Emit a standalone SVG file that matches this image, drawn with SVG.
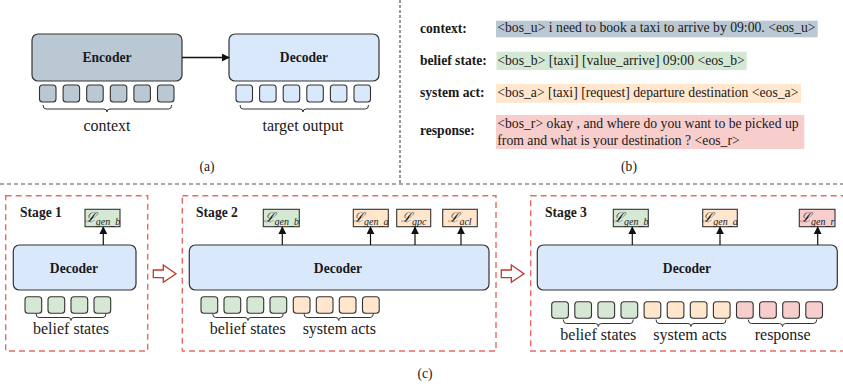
<svg xmlns="http://www.w3.org/2000/svg" width="843" height="386" viewBox="0 0 843 386">
  <defs>
    <marker id="arr" viewBox="0 0 10 10" refX="9" refY="5" markerWidth="8" markerHeight="8" markerUnits="userSpaceOnUse" orient="auto">
      <path d="M0,0 L10,5 L0,10 z" fill="#111"/>
    </marker>
    <marker id="arrUp" viewBox="0 0 10 10" refX="9" refY="5" markerWidth="8" markerHeight="8" markerUnits="userSpaceOnUse" orient="auto">
      <path d="M0,0 L10,5 L0,10 z" fill="#111"/>
    </marker>
  </defs>
  <style>
    text { font-family: "Liberation Serif", "Times New Roman", serif; fill: #1a1a1a; }
    .b { font-weight: bold; font-size: 13.6px; }
    .lbl { font-size: 16px; text-anchor: middle; }
    .cap { font-size: 13.6px; text-anchor: middle; }
    .seq { font-size: 13.7px; }
    .tok { stroke: #333; stroke-width: 1.1; }
    .enc { fill: #bac8d3; }
    .dec { fill: #dae8fc; }
    .g { fill: #d5e8d4; }
    .o { fill: #ffe6cc; }
    .r { fill: #f8cecc; }
    .block { stroke: #333; stroke-width: 1.2; }
    .brace { fill: none; stroke: #333; stroke-width: 1; }
    .stage { fill: none; stroke: #ea6b66; stroke-width: 1.4; stroke-dasharray: 6 4; }
    .sep { fill: none; stroke: #555; stroke-width: 1.2; stroke-dasharray: 4 3; }
    .loss { stroke: #333; stroke-width: 1.1; }
    .up { stroke: #111; stroke-width: 1.2; fill: none; }
    .L { font-family: "DejaVu Serif", serif; font-style: italic; font-size: 13.5px; }
    .sub { font-family: "Liberation Serif", serif; font-style: italic; font-size: 10px; }
    .hollow { fill: #fff; stroke: #c0392b; stroke-width: 1.3; }
  </style>

  <!-- panel separators -->
  <g id="separators">
    <line class="sep" x1="400" y1="0" x2="400" y2="184" style="stroke-dasharray:3 2"/>
    <line class="sep" x1="0" y1="184" x2="843" y2="184"/>
  </g>

  <!-- (a) encoder-decoder -->
  <g id="encoder">
    <rect class="block enc" x="32" y="34" width="150" height="47" rx="6"/>
    <text class="b" x="107" y="62" text-anchor="middle">Encoder</text>
    <rect class="tok enc" x="39.5" y="85" width="16.5" height="17" rx="3"/>
    <rect class="tok enc" x="63.1" y="85" width="16.5" height="17" rx="3"/>
    <rect class="tok enc" x="86.7" y="85" width="16.5" height="17" rx="3"/>
    <rect class="tok enc" x="110.3" y="85" width="16.5" height="17" rx="3"/>
    <rect class="tok enc" x="133.9" y="85" width="16.5" height="17" rx="3"/>
    <rect class="tok enc" x="157.5" y="85" width="16.5" height="17" rx="3"/>
    <path class="brace" d="M43,105 Q43,109 46,109 L104,109 Q107,109 107,112 Q107,109 110,109 L168.7,109 Q171.7,109 171.7,105"/>
    <text class="lbl" x="107" y="131">context</text>
  </g>
  <g id="decoder-a">
    <rect class="block dec" x="229" y="34" width="150" height="47" rx="6"/>
    <text class="b" x="304" y="62" text-anchor="middle">Decoder</text>
    <rect class="tok dec" x="236" y="85" width="16.5" height="17" rx="3"/>
    <rect class="tok dec" x="259.6" y="85" width="16.5" height="17" rx="3"/>
    <rect class="tok dec" x="283.2" y="85" width="16.5" height="17" rx="3"/>
    <rect class="tok dec" x="306.8" y="85" width="16.5" height="17" rx="3"/>
    <rect class="tok dec" x="330.4" y="85" width="16.5" height="17" rx="3"/>
    <rect class="tok dec" x="354" y="85" width="16.5" height="17" rx="3"/>
    <path class="brace" d="M240,105 Q240,109 243,109 L300,109 Q303,109 303,112 Q303,109 306,109 L365.5,109 Q368.5,109 368.5,105"/>
    <text class="lbl" x="303" y="131">target output</text>
  </g>
  <g id="connectors-a">
    <line x1="182" y1="57.5" x2="229" y2="57.5" stroke="#111" stroke-width="1.3" marker-end="url(#arr)"/>
  </g>
  <text class="cap" x="207" y="171">(a)</text>

  <!-- (b) example sequences -->
  <g id="example">
    <rect x="496" y="20.7" width="321.7" height="16.6" fill="#bac8d3"/>
    <rect x="496.5" y="51.7" width="250.2" height="18.3" fill="#d5e8d4"/>
    <rect x="496" y="84" width="305" height="18.7" fill="#ffe6cc"/>
    <rect x="496" y="115" width="308.3" height="34" fill="#f8cecc"/>
    <text class="b" x="420" y="32.5">context:</text>
    <text class="b" x="420" y="65">belief state:</text>
    <text class="b" x="420" y="97">system act:</text>
    <text class="b" x="420" y="135">response:</text>
    <text class="seq" x="497.3" y="32.3">&lt;bos_u&gt; i need to book a taxi to arrive by 09:00. &lt;eos_u&gt;</text>
    <text class="seq" x="497.3" y="65">&lt;bos_b&gt; [taxi] [value_arrive] 09:00 &lt;eos_b&gt;</text>
    <text class="seq" x="497.3" y="96.7">&lt;bos_a&gt; [taxi] [request] departure destination &lt;eos_a&gt;</text>
    <text class="seq" x="497.3" y="128.3">&lt;bos_r&gt; okay , and where do you want to be picked up</text>
    <text class="seq" x="497.3" y="145">from and what is your destination ? &lt;eos_r&gt;</text>
  </g>
  <text class="cap" x="629" y="171">(b)</text>

  <!-- (c) stage 1 -->
  <g id="stage1">
    <rect class="stage" x="5.7" y="195.7" width="142" height="155.3"/>
    <text class="b" x="20" y="217.3">Stage 1</text>
    <rect class="block dec" x="13.3" y="245" width="122.7" height="45" rx="6"/>
    <text class="b" x="74" y="272.5" text-anchor="middle">Decoder</text>
    <rect class="loss g" x="85" y="209.3" width="35" height="17.4"/>
    <text x="102.5" y="222" text-anchor="middle"><tspan class="L">ℒ</tspan><tspan class="sub" dy="2.5">gen_b</tspan></text>
    <rect class="tok g" x="25" y="296.7" width="16.7" height="16.6" rx="3"/>
    <rect class="tok g" x="48" y="296.7" width="16.7" height="16.6" rx="3"/>
    <rect class="tok g" x="71" y="296.7" width="16.7" height="16.6" rx="3"/>
    <rect class="tok g" x="94" y="296.7" width="16.7" height="16.6" rx="3"/>
    <path class="brace" d="M36,313.5 Q36,317.5 39,317.5 L68,317.5 Q71,317.5 71,320.5 Q71,317.5 74,317.5 L103,317.5 Q106,317.5 106,313.5"/>
    <text class="lbl" x="71" y="334">belief states</text>
  </g>

  <!-- (c) stage 2 -->
  <g id="stage2">
    <rect class="stage" x="182.3" y="195.7" width="313.7" height="155.3"/>
    <text class="b" x="196" y="217.3">Stage 2</text>
    <rect class="block dec" x="189.3" y="245" width="299.7" height="45" rx="6"/>
    <text class="b" x="338" y="272.5" text-anchor="middle">Decoder</text>
    <rect class="loss g" x="263.3" y="209.3" width="36" height="17.4"/>
    <text x="281.3" y="222" text-anchor="middle"><tspan class="L">ℒ</tspan><tspan class="sub" dy="2.5">gen_b</tspan></text>
    <rect class="loss o" x="353.3" y="209.3" width="35" height="17.4"/>
    <text x="370.8" y="222" text-anchor="middle"><tspan class="L">ℒ</tspan><tspan class="sub" dy="2.5">gen_a</tspan></text>
    <rect class="loss o" x="396.7" y="209.3" width="34" height="17.4"/>
    <text x="413.7" y="222" text-anchor="middle"><tspan class="L">ℒ</tspan><tspan class="sub" dy="2.5">gpc</tspan></text>
    <rect class="loss o" x="442.7" y="209.3" width="34.6" height="17.4"/>
    <text x="460" y="222" text-anchor="middle"><tspan class="L">ℒ</tspan><tspan class="sub" dy="2.5">acl</tspan></text>
    <rect class="tok g" x="201" y="296.7" width="16.7" height="16.6" rx="3"/>
    <rect class="tok g" x="224" y="296.7" width="16.7" height="16.6" rx="3"/>
    <rect class="tok g" x="247" y="296.7" width="16.7" height="16.6" rx="3"/>
    <rect class="tok g" x="270" y="296.7" width="16.7" height="16.6" rx="3"/>
    <rect class="tok o" x="293.3" y="296.7" width="16.7" height="16.6" rx="3"/>
    <rect class="tok o" x="316.3" y="296.7" width="16.7" height="16.6" rx="3"/>
    <rect class="tok o" x="339.3" y="296.7" width="16.7" height="16.6" rx="3"/>
    <rect class="tok o" x="362.5" y="296.7" width="16.7" height="16.6" rx="3"/>
    <path class="brace" d="M212.7,313.5 Q212.7,317.5 215.7,317.5 L245,317.5 Q248,317.5 248,320.5 Q248,317.5 251,317.5 L280.3,317.5 Q283.3,317.5 283.3,313.5"/>
    <path class="brace" d="M304,313.5 Q304,317.5 307,317.5 L335.7,317.5 Q338.7,317.5 338.7,320.5 Q338.7,317.5 341.7,317.5 L370.3,317.5 Q373.3,317.5 373.3,313.5"/>
    <text class="lbl" x="247.7" y="334">belief states</text>
    <text class="lbl" x="339.3" y="334">system acts</text>
  </g>

  <!-- (c) stage 3 -->
  <g id="stage3">
    <rect class="stage" x="530.7" y="195.7" width="320" height="155.3"/>
    <text class="b" x="545" y="217.3">Stage 3</text>
    <rect class="block dec" x="537.3" y="245" width="300" height="45" rx="6"/>
    <text class="b" x="687" y="272.5" text-anchor="middle">Decoder</text>
    <rect class="loss g" x="613.3" y="209.3" width="35" height="17.4"/>
    <text x="630.8" y="222" text-anchor="middle"><tspan class="L">ℒ</tspan><tspan class="sub" dy="2.5">gen_b</tspan></text>
    <rect class="loss o" x="702.7" y="209.3" width="34.6" height="17.4"/>
    <text x="720" y="222" text-anchor="middle"><tspan class="L">ℒ</tspan><tspan class="sub" dy="2.5">gen_a</tspan></text>
    <rect class="loss r" x="799.3" y="209.3" width="35.7" height="17.4"/>
    <text x="817.2" y="222" text-anchor="middle"><tspan class="L">ℒ</tspan><tspan class="sub" dy="2.5">gen_r</tspan></text>
    <rect class="tok g" x="551.7" y="301.7" width="16.7" height="16.6" rx="3"/>
    <rect class="tok g" x="574.8" y="301.7" width="16.7" height="16.6" rx="3"/>
    <rect class="tok g" x="597.9" y="301.7" width="16.7" height="16.6" rx="3"/>
    <rect class="tok g" x="621" y="301.7" width="16.7" height="16.6" rx="3"/>
    <rect class="tok o" x="644.1" y="301.7" width="16.7" height="16.6" rx="3"/>
    <rect class="tok o" x="667.2" y="301.7" width="16.7" height="16.6" rx="3"/>
    <rect class="tok o" x="690.3" y="301.7" width="16.7" height="16.6" rx="3"/>
    <rect class="tok o" x="713.4" y="301.7" width="16.7" height="16.6" rx="3"/>
    <rect class="tok r" x="736.5" y="301.7" width="16.7" height="16.6" rx="3"/>
    <rect class="tok r" x="759.6" y="301.7" width="16.7" height="16.6" rx="3"/>
    <rect class="tok r" x="782.7" y="301.7" width="16.7" height="16.6" rx="3"/>
    <rect class="tok r" x="805.8" y="301.7" width="16.7" height="16.6" rx="3"/>
    <path class="brace" d="M563.3,319.5 Q563.3,323.5 566.3,323.5 L595.3,323.5 Q598.3,323.5 598.3,326.5 Q598.3,323.5 601.3,323.5 L630.3,323.5 Q633.3,323.5 633.3,319.5"/>
    <path class="brace" d="M656,319.5 Q656,323.5 659,323.5 L688,323.5 Q691,323.5 691,326.5 Q691,323.5 694,323.5 L723,323.5 Q726,323.5 726,319.5"/>
    <path class="brace" d="M748.3,319.5 Q748.3,323.5 751.3,323.5 L779.5,323.5 Q782.5,323.5 782.5,326.5 Q782.5,323.5 785.5,323.5 L813.7,323.5 Q816.7,323.5 816.7,319.5"/>
    <text class="lbl" x="598.3" y="340">belief states</text>
    <text class="lbl" x="690" y="340">system acts</text>
    <text class="lbl" x="782.7" y="340">response</text>
  </g>

  <!-- decoder outputs to losses, and stage transitions -->
  <g id="connectors">
    <line class="up" x1="103.3" y1="245" x2="103.3" y2="227" marker-end="url(#arrUp)"/>
    <line class="up" x1="282.3" y1="245" x2="282.3" y2="227" marker-end="url(#arrUp)"/>
    <line class="up" x1="370.5" y1="245" x2="370.5" y2="227" marker-end="url(#arrUp)"/>
    <line class="up" x1="415" y1="245" x2="415" y2="227" marker-end="url(#arrUp)"/>
    <line class="up" x1="461" y1="245" x2="461" y2="227" marker-end="url(#arrUp)"/>
    <line class="up" x1="632.3" y1="245" x2="632.3" y2="227" marker-end="url(#arrUp)"/>
    <line class="up" x1="720" y1="245" x2="720" y2="227" marker-end="url(#arrUp)"/>
    <line class="up" x1="817.7" y1="245" x2="817.7" y2="227" marker-end="url(#arrUp)"/>
    <path class="hollow" d="M153.3,270 L163.3,270 L163.3,265 L176,273.7 L163.3,282.3 L163.3,277.7 L153.3,277.7 Z"/>
    <path class="hollow" d="M501.3,270 L511.3,270 L511.3,265 L524,273.7 L511.3,282.3 L511.3,277.7 L501.3,277.7 Z"/>
  </g>
  <text class="cap" x="425" y="378">(c)</text>
</svg>
